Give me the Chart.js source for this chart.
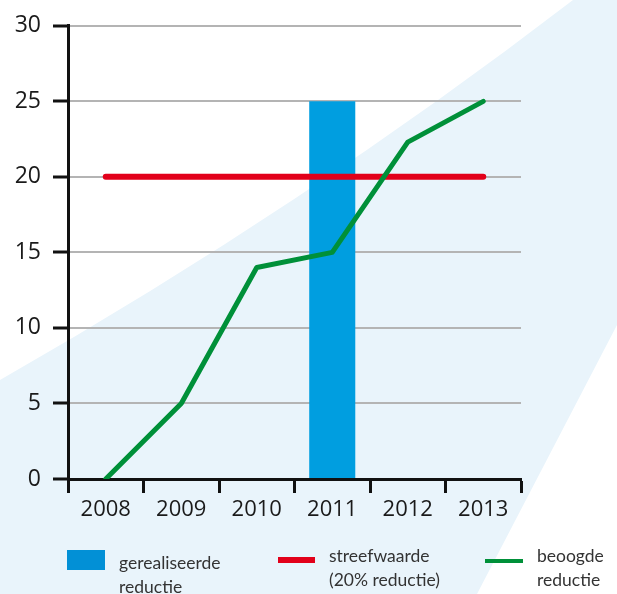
<!DOCTYPE html>
<html>
<head>
<meta charset="utf-8">
<script src="https://cdn.jsdelivr.net/npm/chart.js@4.4.1/dist/chart.umd.min.js"></script>
<style>
  html, body { margin: 0; padding: 0; background: #fff; }
  #wrap { position: relative; width: 617px; height: 594px; overflow: hidden; }
  .lg { position: absolute; font-family: Lato, "Open Sans", sans-serif; font-size: 17.5px; line-height: 24px; color: #333; }
  .sw { position: absolute; }
</style>
</head>
<body>
<div id="wrap">
  <canvas id="chart" width="617" height="594"></canvas>
  <div class="sw" style="left:67px; top:550px; width:38px; height:20px; background:#0290d6;"></div>
  <div class="lg" style="left:119px; top:551px;">gerealiseerde<br>reductie</div>
  <div class="sw" style="left:278px; top:557px; width:37px; height:6px; background:#e2001a;"></div>
  <div class="lg" style="left:329px; top:544px;">streefwaarde<br>(20% reductie)</div>
  <div class="sw" style="left:485px; top:559px; width:38px; height:4px; background:#009039;"></div>
  <div class="lg" style="left:537px; top:544px;">beoogde<br>reductie</div>
</div>
<script>
// Data
const years = ['2008', '2009', '2010', '2011', '2012', '2013'];
const realised = [null, null, null, 25, null, null];   // gerealiseerde reductie
const target = [20, 20, 20, 20, 20, 20];               // streefwaarde (20% reductie)
const planned = [0, 5, 14, 15, 22.3, 25];              // beoogde reductie
const yTicks = [0, 5, 10, 15, 20, 25, 30];

// Light blue decorative band behind the chart
const backdrop = {
    id: 'backdrop',
    beforeDraw(chart) {
        const ctx = chart.ctx;
        const w = chart.width, h = chart.height;
        ctx.save();
        ctx.fillStyle = '#e9f4fb';
        ctx.beginPath();
        ctx.moveTo(573, 0);
        ctx.lineTo(w, 0);
        ctx.lineTo(w, 325);
        ctx.lineTo(477, h);
        ctx.lineTo(0, h);
        ctx.lineTo(0, 380);
        ctx.quadraticCurveTo(305, 206, 573, 0);
        ctx.closePath();
        ctx.fill();
        ctx.restore();
    }
};

const tickFont = { family: '"Open Sans", Lato, sans-serif' };

new Chart(document.getElementById('chart'), {
    type: 'bar',
    data: {
        labels: years,
        datasets: [
            {
                type: 'line',
                label: 'beoogde reductie',
                data: planned,
                borderColor: '#009039',
                borderWidth: 5,
                pointRadius: 0,
                borderCapStyle: 'round',
                borderJoinStyle: 'round',
                tension: 0,
                order: 1
            },
            {
                type: 'line',
                label: 'streefwaarde (20% reductie)',
                data: target,
                borderColor: '#e2001a',
                borderWidth: 6,
                pointRadius: 0,
                borderCapStyle: 'round',
                order: 2
            },
            {
                type: 'bar',
                label: 'gerealiseerde reductie',
                data: realised,
                backgroundColor: '#009ee0',
                categoryPercentage: 1,
                barPercentage: 0.61,
                order: 3
            }
        ]
    },
    plugins: [backdrop],
    options: {
        responsive: false,
        animation: false,
        layout: { padding: { left: 0, top: 25, right: 96, bottom: 0 } },
        plugins: {
            legend: { display: false },
            tooltip: { enabled: false }
        },
        scales: {
            x: {
                offset: true,
                afterFit(scale) { scale.height = 115; },
                grid: {
                    offset: true,
                    drawOnChartArea: false,
                    drawTicks: true,
                    tickLength: 14,
                    tickColor: '#111',
                    tickWidth: 3
                },
                border: { display: true, color: '#111', width: 3 },
                ticks: {
                    color: '#1a1a1a',
                    padding: 4,
                    maxRotation: 0,
                    font: { ...tickFont, size: 22 }
                }
            },
            y: {
                min: 0,
                max: 30,
                afterFit(scale) { scale.width = 68; },
                afterBuildTicks(scale) { scale.ticks = yTicks.map(v => ({ value: v })); },
                grid: {
                    color: '#b4b4b4',
                    lineWidth: 2,
                    tickLength: 15,
                    tickColor: '#111',
                    tickWidth: 3
                },
                border: { display: true, color: '#111', width: 3 },
                ticks: {
                    color: '#1a1a1a',
                    padding: 12,
                    font: { ...tickFont, size: 23 }
                }
            }
        }
    }
});
</script>
</body>
</html>
